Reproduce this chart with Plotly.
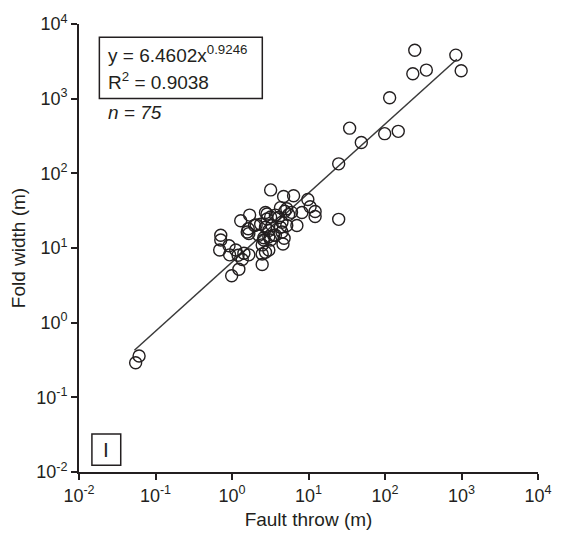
import plotly.graph_objects as go

# ---- data ----
fault_throw = [
    245, 843, 231, 347, 990, 115, 34.5, 49, 99, 149, 24.8,
    0.061, 0.055,
    3.2, 4.73, 6.38, 9.8, 10.5, 12.2, 12.2, 8.2, 24.8, 5.2, 4.3,
    2.87, 1.70, 1.30, 1.63, 1.66, 2.24, 2.74, 3.03, 2.6, 3.03,
    4.3, 4.5, 5.2, 4.07, 7.05, 4.64, 2.48, 2.48, 2.48, 2.74,
    3.2, 3.69, 2.07, 1.58, 2.74, 2.87, 3.2, 0.713, 0.713, 0.69,
    0.914, 0.93, 1.12, 1.43, 1.66, 1.36, 1.23, 0.99,
    3.69, 2.37, 1.97, 3.34, 3.5, 4.5, 2.6, 3.03, 5.5, 4.9, 1.2, 4.8, 6.0,
]
fold_width = [
    4450, 3830, 2160, 2415, 2370, 1030, 403, 259, 340, 365, 134,
    0.358, 0.29,
    60, 49, 50, 44.6, 35.7, 30.8, 26.4, 29.9, 24.2, 33.6, 34.7,
    28.5, 27.6, 23.2, 18.1, 15.6, 14.8, 19.0, 17.2, 12.8, 14.1,
    19.0, 22.1, 20.0, 25.6, 20.0, 11.3, 11.0, 8.3, 6.0, 8.8,
    12.8, 14.8, 20.4, 16.4, 29.9, 24.5, 26.0, 14.8, 12.8, 9.4,
    10.7, 8.1, 9.4, 8.5, 8.1, 7.0, 5.2, 4.24,
    27.6, 20.8, 20.0, 20.0, 14.8, 16.4, 13.7, 9.4, 28.0, 31.0, 8.0, 13.5, 30.0,
]
fit_coef = 6.4602
fit_exp = 0.9246
fit_r2 = 0.9038
fit_x_range = [0.053, 870]
n_label = "n = 75"
panel_label = "I"
tick_vals = [1e-2, 1e-1, 1e0, 1e1, 1e2, 1e3, 1e4]
tick_text = ["10<sup>-2</sup>", "10<sup>-1</sup>", "10<sup>0</sup>", "10<sup>1</sup>",
             "10<sup>2</sup>", "10<sup>3</sup>", "10<sup>4</sup>"]

fit_y = [fit_coef * x ** fit_exp for x in fit_x_range]

INK = "#231f20"
FONT = "Liberation Sans, Arial, Helvetica, sans-serif"

fig = go.Figure()
fig.add_trace(go.Scatter(
    x=fit_x_range, y=fit_y, mode="lines",
    line=dict(color="#3a3a3a", width=1.5), showlegend=False, hoverinfo="skip",
))
fig.add_trace(go.Scatter(
    x=fault_throw, y=fold_width, mode="markers",
    marker=dict(symbol="circle-open", size=12, color=INK, line=dict(width=1.4, color=INK)),
    showlegend=False,
))

axis_common = dict(
    type="log", tickvals=tick_vals, ticktext=tick_text,
    showgrid=False, zeroline=False, showline=True, linecolor=INK, linewidth=1.8,
    ticks="outside", ticklen=6, tickwidth=1.8, tickcolor=INK,
    tickfont=dict(family=FONT, size=18, color=INK), mirror=False,
)
fig.update_xaxes(range=[-2, 4], title=dict(text="Fault throw (m)", font=dict(family=FONT, size=19, color=INK), standoff=8), **axis_common)
fig.update_yaxes(range=[-2, 4], title=dict(text="Fold width (m)", font=dict(family=FONT, size=19, color=INK), standoff=6), **axis_common)

L, R, T, B = 79, 23, 13, 66
W, H = 564, 539
pw, ph = W - L - R, H - T - B

def px(xp):
    return (xp - L) / pw

def py(yp):
    return (H - B - yp) / ph

shapes = [
    dict(type="rect", xref="paper", yref="paper", x0=px(99.5), x1=px(263.5), y0=py(89.5), y1=py(26.5),
         line=dict(color=INK, width=1.5), fillcolor="rgba(0,0,0,0)"),
    dict(type="rect", xref="paper", yref="paper", x0=px(92), x1=px(121), y0=py(466), y1=py(434),
         line=dict(color=INK, width=1.5), fillcolor="rgba(0,0,0,0)"),
]
annotations = [
    dict(xref="paper", yref="paper", x=px(106), y=py(44), xanchor="left", yanchor="middle", showarrow=False,
         text=f"y = {fit_coef}x<sup>{fit_exp}</sup>", font=dict(family=FONT, size=19, color=INK)),
    dict(xref="paper", yref="paper", x=px(106), y=py(72), xanchor="left", yanchor="middle", showarrow=False,
         text=f"R<sup>2</sup> = {fit_r2}", font=dict(family=FONT, size=19, color=INK)),
    dict(xref="paper", yref="paper", x=px(106), y=py(104), xanchor="left", yanchor="middle", showarrow=False,
         text=f"<i>{n_label}</i>", font=dict(family=FONT, size=19, color=INK)),
    dict(xref="paper", yref="paper", x=px(106.5), y=py(450), xanchor="center", yanchor="middle", showarrow=False,
         text=panel_label, font=dict(family=FONT, size=21, color=INK)),
]

fig.update_layout(
    width=W, height=H, margin=dict(l=L, r=R, t=T, b=B),
    paper_bgcolor="white", plot_bgcolor="white",
    shapes=shapes, annotations=annotations,
    font=dict(family=FONT, color=INK),
)

fig.write_html("out.html")
